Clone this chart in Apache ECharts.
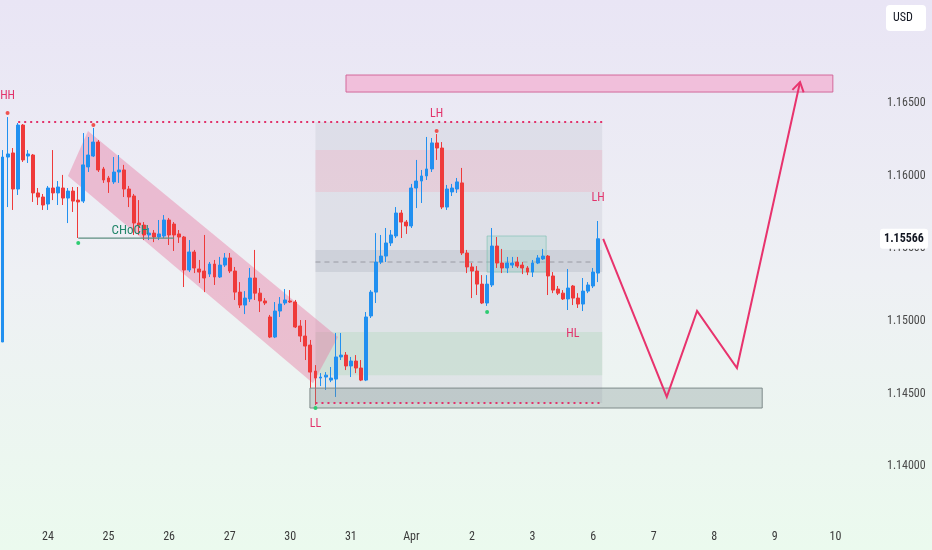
<!DOCTYPE html>
<html><head><meta charset="utf-8">
<script src="https://cdn.jsdelivr.net/npm/echarts@6/dist/echarts.min.js"></script>
<style>html,body{margin:0;padding:0;background:#fff}#c{width:932px;height:550px;}</style>
</head><body><div id="c"></div>
<script>
// ---------- data ----------
const dayLabels = ['24','25','26','27','30','31','Apr','2','3','6','7','8','9','10'];
const dayLabelSlots = [9,21,33,45,57,69,81,93,105,117,129,141,153,165];
const slotCount = 168; // 2H slots incl. future space
// [open, close, low, high]
const candles = [
[1.14856,1.16128,1.14856,1.16176],[1.16128,1.16149,1.15784,1.16403],[1.16156,1.15908,1.15764,1.16190],[1.15908,1.16348,1.15867,1.16362],
[1.16348,1.16108,1.16094,1.16355],[1.16135,1.16149,1.16087,1.16176],[1.16142,1.15881,1.15819,1.16149],[1.15881,1.15853,1.15798,1.15915],
[1.15853,1.15798,1.15764,1.15874],[1.15805,1.15915,1.15764,1.15929],[1.15915,1.15881,1.15832,1.16176],[1.15881,1.15922,1.15798,1.15963],
[1.15915,1.15846,1.15798,1.16005],[1.15846,1.15894,1.15674,1.15915],[1.15894,1.15825,1.15750,1.15922],[1.15832,1.15819,1.15571,1.15922],
[1.15825,1.16074,1.15812,1.16293],[1.16060,1.16142,1.16025,1.16266],[1.16135,1.16231,1.16128,1.16328],[1.16231,1.16039,1.16025,1.16245],
[1.16046,1.15970,1.15950,1.16060],[1.15984,1.15957,1.15881,1.15998],[1.15957,1.16025,1.15943,1.16128],[1.16025,1.16039,1.15950,1.16142],
[1.16039,1.15908,1.15853,1.16074],[1.15908,1.15853,1.15784,1.15929],[1.15860,1.15674,1.15592,1.15874],[1.15674,1.15660,1.15592,1.15832],
[1.15660,1.15592,1.15557,1.15681],[1.15592,1.15605,1.15557,1.15640],[1.15605,1.15578,1.15543,1.15626],[1.15578,1.15599,1.15557,1.15695],
[1.15585,1.15695,1.15571,1.15729],[1.15695,1.15592,1.15523,1.15709],[1.15667,1.15592,1.15482,1.15681],[1.15599,1.15578,1.15537,1.15626],
[1.15578,1.15351,1.15234,1.15585],[1.15351,1.15475,1.15337,1.15557],[1.15475,1.15365,1.15330,1.15489],[1.15358,1.15337,1.15262,1.15420],
[1.15344,1.15296,1.15199,1.15592],[1.15323,1.15392,1.15303,1.15406],[1.15392,1.15303,1.15248,1.15420],[1.15303,1.15385,1.15296,1.15441],
[1.15385,1.15434,1.15372,1.15468],[1.15434,1.15344,1.15330,1.15468],[1.15344,1.15199,1.15145,1.15372],[1.15199,1.15110,1.15090,1.15268],
[1.15110,1.15158,1.15048,1.15206],[1.15152,1.15296,1.15131,1.15365],[1.15296,1.15192,1.15145,1.15489],[1.15192,1.15138,1.15062,1.15227],
[1.15138,1.15124,1.15110,1.15158],[1.15028,1.14890,1.14883,1.15042],[1.14890,1.15069,1.14883,1.15131],[1.15069,1.15117,1.15028,1.15165],
[1.15124,1.15145,1.15110,1.15220],[1.15138,1.15131,1.15124,1.15213],[1.15131,1.14959,1.14952,1.15145],[1.14966,1.14897,1.14856,1.15007],
[1.14897,1.14828,1.14732,1.15007],[1.14835,1.14649,1.14539,1.14870],[1.14656,1.14608,1.14422,1.14697],[1.14608,1.14615,1.14553,1.14642],
[1.14615,1.14628,1.14526,1.14649],[1.14594,1.14608,1.14580,1.14684],[1.14601,1.14753,1.14478,1.14918],[1.14753,1.14766,1.14732,1.14918],
[1.14766,1.14691,1.14663,1.14787],[1.14691,1.14725,1.14615,1.14753],[1.14725,1.14677,1.14642,1.14766],[1.14677,1.14594,1.14587,1.14732],
[1.14594,1.15028,1.14587,1.15062],[1.15035,1.15199,1.15021,1.15213],[1.15199,1.15406,1.15124,1.15605],[1.15406,1.15447,1.15392,1.15592],
[1.15447,1.15537,1.15406,1.15640],[1.15537,1.15592,1.15516,1.15626],[1.15585,1.15743,1.15571,1.15784],[1.15743,1.15681,1.15571,1.15764],
[1.15681,1.15654,1.15599,1.15695],[1.15654,1.15915,1.15640,1.15943],[1.15915,1.15963,1.15777,1.16108],[1.15963,1.15998,1.15812,1.16039],
[1.15998,1.16046,1.15970,1.16266],[1.16046,1.16225,1.16025,1.16259],[1.16225,1.16190,1.16108,1.16286],[1.16190,1.15784,1.15770,1.16231],
[1.15784,1.15908,1.15764,1.15936],[1.15888,1.15915,1.15860,1.15943],[1.15908,1.15957,1.15881,1.15984],[1.15950,1.15468,1.15454,1.16053],
[1.15468,1.15372,1.15330,1.15489],[1.15372,1.15344,1.15158,1.15399],[1.15344,1.15254,1.15179,1.15378],[1.15254,1.15124,1.15117,1.15316],
[1.15124,1.15254,1.15104,1.15316],[1.15248,1.15516,1.15234,1.15640],[1.15516,1.15399,1.15365,1.15578],[1.15399,1.15365,1.15330,1.15496],
[1.15365,1.15399,1.15330,1.15441],[1.15385,1.15399,1.15365,1.15441],[1.15406,1.15378,1.15365,1.15441],[1.15385,1.15365,1.15323,1.15406],
[1.15365,1.15337,1.15316,1.15378],[1.15337,1.15399,1.15303,1.15420],[1.15399,1.15434,1.15392,1.15454],[1.15427,1.15447,1.15420,1.15496],
[1.15447,1.15310,1.15179,1.15454],[1.15310,1.15213,1.15192,1.15337],[1.15220,1.15192,1.15179,1.15241],[1.15192,1.15152,1.15145,1.15213],
[1.15152,1.15227,1.15076,1.15358],[1.15241,1.15158,1.15110,1.15248],[1.15158,1.15117,1.15090,1.15192],[1.15117,1.15206,1.15069,1.15296],
[1.15206,1.15248,1.15192,1.15268],[1.15241,1.15337,1.15227,1.15365],[1.15330,1.15566,1.15268,1.15688]
];
const lastClose = 1.15566;

// annotations in data coordinates: [slot, price]
const highLevelLine = [[3.1, 1.16369],[118.8, 1.16369]];
const lowLevelLine  = [[62.0, 1.14436],[118.8, 1.14436]];
const chochLine     = [[15, 1.15571],[34, 1.15571]];
const rangeBox      = [[62.0, 1.16369],[118.8, 1.14436]];
const premiumZone   = [[62.0, 1.16176],[118.8, 1.15888]];
const equilibrium   = [[62.0, 1.15489],[118.8, 1.15337]];
const eqDash        = [[62.0, 1.15406],[117.0, 1.15406]];
const discountZone  = [[62.0, 1.14925],[118.8, 1.14628]];
const consolBox     = [[96.0, 1.15585],[107.7, 1.15337]];
const targetBox     = [[68.05, 1.16692],[164.5, 1.16575]];
const supportBox    = [[60.9, 1.14539],[150.5, 1.14402]];
const channel       = [[16.93,1.16307],[66.46,1.14891],[61.51,1.14573],[12.97,1.15998]];
const projection    = [[119,1.15566],[131.6,1.14478],[137.6,1.15069],[145.5,1.14677],[158,1.16644]];
const redDots       = [[1,1.16431],[18,1.16349],[86,1.16307]];
const greenDots     = [[15,1.15537],[96,1.15062],[62,1.14402]];
const swingLabels   = [['HH',1,1.16548],['LH',86,1.16424],['LH',118,1.15846],['HL',113,1.14911],['LL',62,1.14292]];
const chochLabel    = ['CHoCH', 25.3, 1.15619];

// ---------- chart ----------
const FONT = "'Liberation Sans Narrow','Arial Narrow','Roboto Condensed',Roboto,sans-serif";
const CRIMSON = '#e2336b';
const chart = echarts.init(document.getElementById('c'), null, {renderer:'canvas'});
const cats = []; for (let i = 0; i < slotCount; i++) cats.push(String(i));
const labelBySlot = {}; dayLabelSlots.forEach((s,i)=>labelBySlot[s]=dayLabels[i]);

function box(api, pts, style){
  const a = api.coord(pts[0]), b = api.coord(pts[1]);
  return {type:'rect', shape:{x:Math.min(a[0],b[0]), y:Math.min(a[1],b[1]), width:Math.abs(b[0]-a[0]), height:Math.abs(b[1]-a[1])}, style};
}
function seg(api, pts, style){
  const a = api.coord(pts[0]), b = api.coord(pts[1]);
  return {type:'line', shape:{x1:a[0],y1:a[1],x2:b[0],y2:b[1]}, style};
}
function layer(z, fn){
  return {type:'custom', xAxisIndex:1, yAxisIndex:0, z, silent:true, clip:false, data:[[0,1.15]],
    renderItem:(params, api)=>({type:'group', children:fn(api)})};
}

const option = {
  animation:false,
  backgroundColor:{type:'linear',x:0,y:0,x2:0,y2:1,colorStops:[
    {offset:0,color:'#e9e5f5'},{offset:0.5,color:'#eef0f4'},{offset:1,color:'#ebfaee'}]},
  grid:{left:0,right:84,top:0,bottom:28},
  xAxis:[{
    type:'category', data:cats, boundaryGap:true,
    axisLine:{show:false}, axisTick:{show:false}, splitLine:{show:false},
    axisLabel:{interval:(i)=>labelBySlot[i]!==undefined, formatter:(v,i)=>labelBySlot[i]||'',
      color:'#3a3a3a', fontSize:12, fontFamily:FONT, margin:9}
  },{
    type:'value', min:-0.5, max:slotCount-0.5, show:false
  }],
  yAxis:[{
    type:'value', position:'right', min:1.13618, max:1.17208, splitNumber:7, scale:true,
    axisLine:{show:false}, axisTick:{show:false}, splitLine:{show:false},
    axisLabel:{margin:39, color:'#4a4a4a', fontSize:12, fontFamily:FONT, showMinLabel:false, showMaxLabel:false,
      formatter:(v)=> (v>1.1395 && v<1.1655) ? v.toFixed(5) : ''}
  }],
  graphic:[
    {type:'rect', left:886, top:5, shape:{width:40,height:26,r:4}, style:{fill:'#ffffff'}, z:100},
    {type:'text', x:903, y:18, style:{text:'USD', fill:'#131722', font:'12px '+FONT, align:'center', verticalAlign:'middle'}, z:101}
  ],
  series:[
    layer(1, api=>[
      box(api, rangeBox, {fill:'rgba(200,202,212,0.38)'}),
      box(api, premiumZone, {fill:'rgba(242,170,190,0.32)'}),
      box(api, equilibrium, {fill:'rgba(170,172,185,0.3)'}),
      seg(api, eqDash, {stroke:'rgba(120,120,130,0.6)', lineWidth:1, lineDash:[5,4]}),
      box(api, discountZone, {fill:'rgba(170,215,180,0.3)'}),
      box(api, consolBox, {fill:'rgba(160,212,200,0.35)', stroke:'rgba(120,190,175,0.6)', lineWidth:1}),
      {type:'polygon', shape:{points:channel.map(p=>api.coord(p))}, style:{fill:'rgba(232,120,160,0.42)'}},
      box(api, targetBox, {fill:'rgba(242,180,212,0.8)', stroke:'#d3689a', lineWidth:1})
    ]),
    {
      type:'candlestick', xAxisIndex:0, yAxisIndex:0, z:2, data:candles, barWidth:3.4,
      itemStyle:{color:'#2190f0', color0:'#ef3a3a', borderColor:'#2190f0', borderColor0:'#ef3a3a', borderWidth:1}
    },
    layer(3, api=>{
      const ch = [];
      ch.push(box(api, supportBox, {fill:'rgba(120,140,140,0.3)', stroke:'#7f8a8a', lineWidth:1}));
      ch.push(seg(api, highLevelLine, {stroke:CRIMSON, lineWidth:2, lineDash:[2,4]}));
      ch.push(seg(api, lowLevelLine, {stroke:CRIMSON, lineWidth:2, lineDash:[2,4]}));
      ch.push(seg(api, chochLine, {stroke:'#5d8e80', lineWidth:1.2}));
      const pts = projection.map(p=>api.coord(p));
      ch.push({type:'polyline', shape:{points:pts}, style:{stroke:'#e8336d', lineWidth:2, fill:null}});
      const tip = pts[pts.length-1], prev = pts[pts.length-2];
      const ang = Math.atan2(tip[1]-prev[1], tip[0]-prev[0]);
      const L = 11, spread = 0.55;
      ch.push({type:'polyline', shape:{points:[
        [tip[0]-L*Math.cos(ang-spread), tip[1]-L*Math.sin(ang-spread)], tip,
        [tip[0]-L*Math.cos(ang+spread), tip[1]-L*Math.sin(ang+spread)]]},
        style:{stroke:'#e8336d', lineWidth:2, fill:null}});
      redDots.forEach(p=>{const c=api.coord(p); ch.push({type:'circle', shape:{cx:c[0],cy:c[1],r:2}, style:{fill:'#ef5350'}});});
      greenDots.forEach(p=>{const c=api.coord(p); ch.push({type:'circle', shape:{cx:c[0],cy:c[1],r:2}, style:{fill:'#2ecc71'}});});
      swingLabels.forEach(l=>{const c=api.coord([l[1],l[2]]); ch.push({type:'text', x:c[0], y:c[1], style:{text:l[0], fill:CRIMSON, font:'12px '+FONT, align:'center', verticalAlign:'middle'}});});
      const cc = api.coord([chochLabel[1], chochLabel[2]]);
      ch.push({type:'text', x:cc[0], y:cc[1], style:{text:chochLabel[0], fill:'#24876b', font:'13px '+FONT, align:'center', verticalAlign:'middle'}});
      // last price label on the price scale
      const lp = api.coord([0, lastClose]);
      ch.push({type:'rect', shape:{x:880, y:lp[1]-10, width:48, height:20, r:3}, style:{fill:'#ffffff'}});
      ch.push({type:'text', x:904, y:lp[1], style:{text:lastClose.toFixed(5), fill:'#131722', font:'bold 12px '+FONT, align:'center', verticalAlign:'middle'}});
      return ch;
    })
  ]
};
chart.setOption(option);
</script>
</body></html>
